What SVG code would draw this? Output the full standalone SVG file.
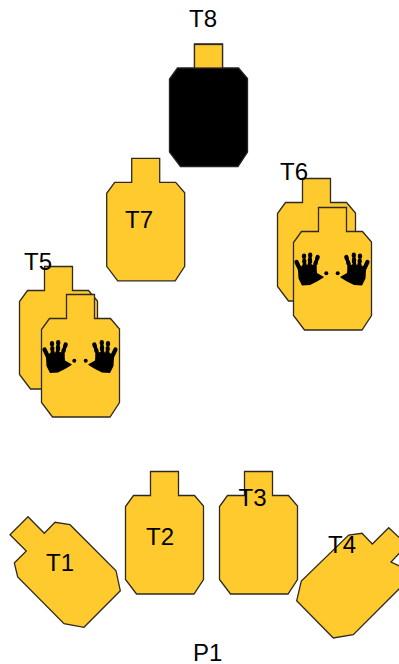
<svg xmlns="http://www.w3.org/2000/svg" width="399" height="664" viewBox="0 0 399 664">
<style>
.t{fill:#ffca2e;stroke:#2e2a20;stroke-width:1.3;stroke-linejoin:miter}
.s{fill:#ffca2e;stroke:#2e2a20;stroke-width:1.3}
.l{font-family:"Liberation Sans",Arial,sans-serif;font-size:24px;fill:#000}
.f{fill:none;stroke:#000;stroke-width:4.200;stroke-linecap:round}
</style>
<defs>
<polygon id="target" points="25,-24 53,-24 53,0 69,0 78,10.500 78,84 68.500,98.500 11,98.500 0,84 0,11 8,0 25,0"/>
<g id="hand">
<path class="f" d="M44.500 349.500L50 361"/>
<path class="f" d="M52 343V344.500M52.300 348V349.500M52.600 352V356"/>
<path class="f" d="M58.200 342V343.500M58 346.500V349.500M57.600 352V356"/>
<path class="f" d="M65.700 344.500L65 346.500M64 349.500L63.300 351.500M62.600 354L61.800 357"/>
<path d="M46 357L50 353L60 352L64.500 354L65 360.500L72 364.500L70 366L65 369L58 372.500L50 373L46.500 366Z" fill="#000"/>
<circle cx="74.300" cy="360.800" r="2" fill="#000"/>
</g>
<g id="hands">
<use href="#hand"/>
<use href="#hand" transform="translate(160 0) scale(-1 1)"/>
</g>
</defs>
<g id="T8">
<use href="#target" class="t" transform="translate(169.500 68)" style="fill:#000;stroke:#222"/>
<rect class="s" x="194.500" y="44.500" width="28" height="23.500"/>
<text class="l" x="189" y="27">T8</text>
</g>
<g id="T7">
<use href="#target" class="t" transform="translate(106.700 182.300)"/>
<text class="l" x="125" y="228">T7</text>
</g>
<g id="T6">
<use href="#target" class="t" transform="translate(277.500 202.500)"/>
<text class="l" x="280" y="180">T6</text>
<use href="#target" class="t" transform="translate(293.500 231.500)"/>
<use href="#hands" transform="translate(252 -87.500)"/>
</g>
<g id="T5">
<use href="#target" class="t" transform="translate(19.500 290.500)"/>
<text class="l" x="24" y="270">T5</text>
<use href="#target" class="t" transform="translate(41.500 318.500)"/>
<use href="#hands"/>
</g>
<g id="T1">
<polygon class="t" points="28,516.700 10,534.700 26.300,551 14.300,563 17.700,577 64,623.700 84,627.300 120.300,590.700 116,570.700 70,524.700 55,522.300 44.300,533.300"/>
<text class="l" x="46" y="571">T1</text>
</g>
<g id="T2">
<use href="#target" class="t" transform="translate(125.500 495.500)"/>
<text class="l" x="146" y="545">T2</text>
</g>
<g id="T3">
<use href="#target" class="t" transform="translate(219.500 495.500)"/>
<text class="l" x="238.500" y="506">T3</text>
</g>
<g id="T4">
<polygon class="t" points="388.700,527.700 372.300,544 362,533.300 348.700,535 301.300,581 296.700,600.700 333.300,638 353.300,634.700 415,573 391,562 407,545"/>
<text class="l" x="328" y="553">T4</text>
</g>
<g id="P1">
<text class="l" x="193" y="661">P1</text>
</g>
<g id="connectors"/>
</svg>
